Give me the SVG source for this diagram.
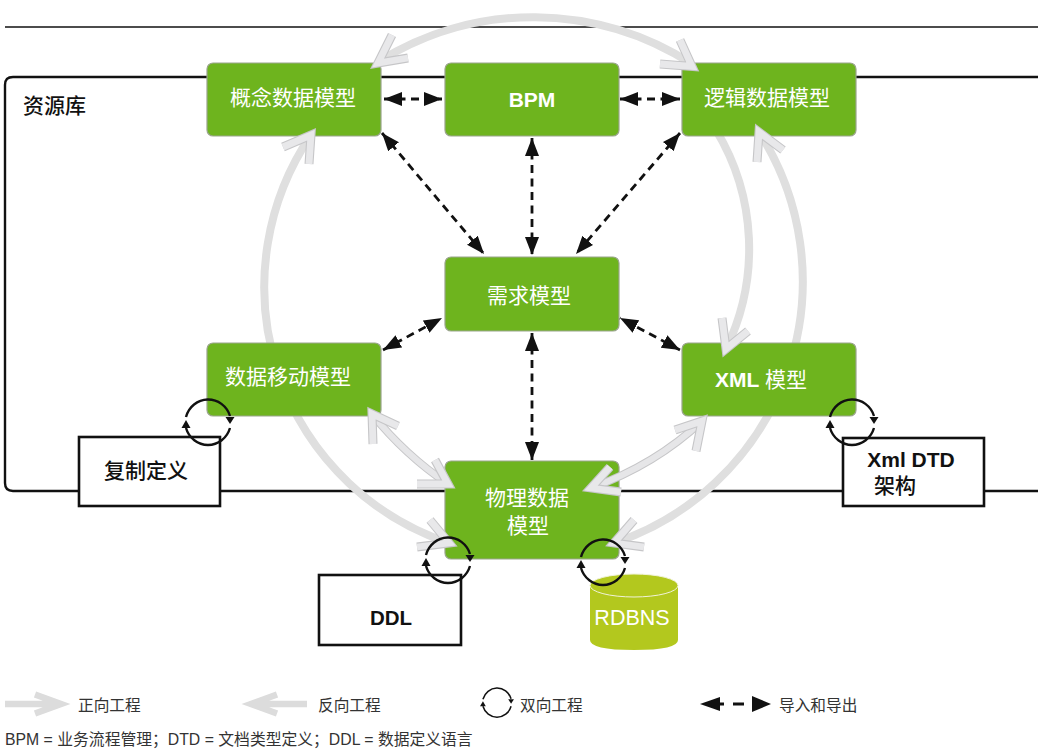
<svg xmlns="http://www.w3.org/2000/svg" width="1038" height="749" viewBox="0 0 1038 749">
<style>
text{font-family:"Liberation Sans","Noto Sans CJK SC",sans-serif}
.n rect{fill:#6eb41e;stroke:#9aa58c;stroke-width:1.2}
.n text{fill:#fff;font-size:21px;text-anchor:middle}
.b rect{fill:#fff;stroke:#111;stroke-width:2.6}
.b text{fill:#111;font-size:21px;font-weight:500;text-anchor:middle}
.n .l,.b .l{font-weight:700}
.arc{fill:none;stroke:#dfdfdf;stroke-width:8}
.ho{fill:none;stroke:#c6c6c8;stroke-width:9;stroke-miterlimit:12}
.hi{fill:none;stroke:#e8e8ea;stroke-width:6.8;stroke-miterlimit:12}
.sh{fill:none;stroke:#c6c6c8;stroke-width:8}
.si{fill:none;stroke:#e6e6e8;stroke-width:6}
.d{fill:none;stroke:#111;stroke-width:2.8;stroke-dasharray:8 5.5;marker-start:url(#tri);marker-end:url(#tri)}
.cy{fill:none;stroke:#111;stroke-width:2.4}
.lg{fill:#333;font-size:15.7px}
.fn{fill:#333;font-size:15.8px}
</style>
<defs>
<marker id="tri" markerUnits="userSpaceOnUse" markerWidth="20" markerHeight="16" refX="18" refY="7" orient="auto-start-reverse"><path d="M0,0L18,7L0,14Z" fill="#111"/></marker>
<g id="cycle">
<path class="cy" d="M-22,-5A23,24 0 0 1 22,-6"/><path d="M17.500,-5L26.500,-5L22,2Z" fill="#111"/>
<path class="cy" d="M22,6A23,24 0 0 1 -22,6"/><path d="M-26.500,6L-17.500,6L-22,-2Z" fill="#111"/>
</g>
</defs>
<g id="frame" fill="none" stroke="#111">
<path d="M5,27H1038" stroke-width="1.4"/>
<path d="M1038,77H13Q5,77 5,85V483Q5,491 13,491H1038" stroke-width="2.4"/>
</g>
<text x="23" y="113" fill="#111" font-size="21" font-weight="500">资源库</text>
<g id="engineering-arcs">
<path class="arc" d="M378,62A292,292 0 0 1 692,64"/>
<path class="arc" d="M311,135A270,270 0 0 0 449,543"/>
<path class="arc" d="M759,132A276,276 0 0 1 614,543"/>
<path class="arc" d="M716,130A229,229 0 0 1 726,349"/>
</g>
<g id="n1" class="n"><rect x="207" y="63" width="174" height="73" rx="6"/><text x="293" y="105">概念数据模型</text></g>
<g id="n2" class="n"><rect x="445" y="63" width="174" height="73" rx="6"/><text x="532" y="107" class="l">BPM</text></g>
<g id="n3" class="n"><rect x="682" y="63" width="174" height="73" rx="6"/><text x="767" y="105">逻辑数据模型</text></g>
<g id="n4" class="n"><rect x="445" y="257" width="174" height="74" rx="6"/><text x="529" y="303">需求模型</text></g>
<g id="n5" class="n"><rect x="207" y="343" width="174" height="73" rx="6"/><text x="288" y="384">数据移动模型</text></g>
<g id="n6" class="n"><rect x="682" y="343" width="174" height="73" rx="6"/><text x="761" y="387"><tspan class="l">XML </tspan>模型</text></g>
<g id="n7" class="n"><rect x="445" y="461" width="174" height="98" rx="6"/><text x="527" y="505">物理数据</text><text x="528" y="533">模型</text></g>
<g id="b1" class="b"><rect x="79" y="437" width="141" height="69"/><text x="146" y="478">复制定义</text></g>
<g id="b2" class="b"><rect x="843" y="438" width="141" height="68"/><text x="911" y="467" class="l">Xml DTD</text><text x="895" y="493">架构</text></g>
<g id="b3" class="b"><rect x="319" y="575" width="142" height="70"/><text x="391" y="625" class="l" style="font-size:20.5px">DDL</text></g>
<g id="db">
<path d="M590,586V640Q590,650 634,650Q678,650 678,640V586Z" fill="#b3c81e"/>
<ellipse cx="634" cy="585.500" rx="44" ry="11.500" fill="#b3c81e" stroke="#f1f3d8" stroke-width="1"/>
<text x="632" y="625" fill="#fff" font-size="21.500" text-anchor="middle">RDBNS</text>
</g>
<g id="connectors">
<path class="d" d="M384,99H442"/>
<path class="d" d="M620,99H680"/>
<path class="d" d="M382,133L484,254"/>
<path class="d" d="M532,138V255"/>
<path class="d" d="M680,133L576,254"/>
<path class="d" d="M383,350L442,318"/>
<path class="d" d="M680,350L620,318"/>
<path class="d" d="M532,333V460"/>
<path class="sh" d="M372,414Q405,455 448,484"/><path class="si" d="M372,414Q405,455 448,484"/>
<path class="sh" d="M591,488Q655,465 702,421"/><path class="si" d="M591,488Q655,465 702,421"/>
<g class="ho"><path d="M392,35L378,63L408,58"/><path d="M680,40L692,66.500L660,64"/><path d="M283,147L311,135L309,164"/><path d="M757,162L759,132L783,150"/><path d="M722,318L726,349L748,331"/><path d="M373,444L372,414L398,426"/><path d="M417,484L448,484L435,460"/><path d="M675,430L702,421L696,451"/><path d="M610,467L591,488L621,492"/><path d="M430,520L449,543L417,547"/><path d="M634,520L614,543L644,547"/></g>
<g class="hi"><path d="M392,35L378,63L408,58"/><path d="M680,40L692,66.500L660,64"/><path d="M283,147L311,135L309,164"/><path d="M757,162L759,132L783,150"/><path d="M722,318L726,349L748,331"/><path d="M373,444L372,414L398,426"/><path d="M417,484L448,484L435,460"/><path d="M675,430L702,421L696,451"/><path d="M610,467L591,488L621,492"/><path d="M430,520L449,543L417,547"/><path d="M634,520L614,543L644,547"/></g>
<use href="#cycle" x="208" y="422"/>
<use href="#cycle" x="448" y="560"/>
<use href="#cycle" x="603" y="562"/>
<use href="#cycle" x="852" y="422"/>
</g>
<g id="legend">
<path d="M5,704H60M35,694.500L61,704L35,713.500" fill="none" stroke="#dcdcdc" stroke-width="6.500"/>
<text class="lg" x="78" y="711">正向工程</text>
<path d="M307,704H252M277,694.500L251,704L277,713.500" fill="none" stroke="#dcdcdc" stroke-width="6.500"/>
<text class="lg" x="318" y="711">反向工程</text>
<use href="#cycle" transform="translate(497,702.500) scale(.64)"/>
<text class="lg" x="520" y="711">双向工程</text>
<path d="M700,704L720,697V711Z" fill="#111"/>
<path d="M719,704H724M733,704H744" fill="none" stroke="#111" stroke-width="3"/>
<path d="M752,696L771,704L752,712Z" fill="#111"/>
<text class="lg" x="779" y="711">导入和导出</text>
<text class="fn" x="5" y="745">BPM = 业务流程管理；DTD = 文档类型定义；DDL = 数据定义语言</text>
</g>
</svg>
